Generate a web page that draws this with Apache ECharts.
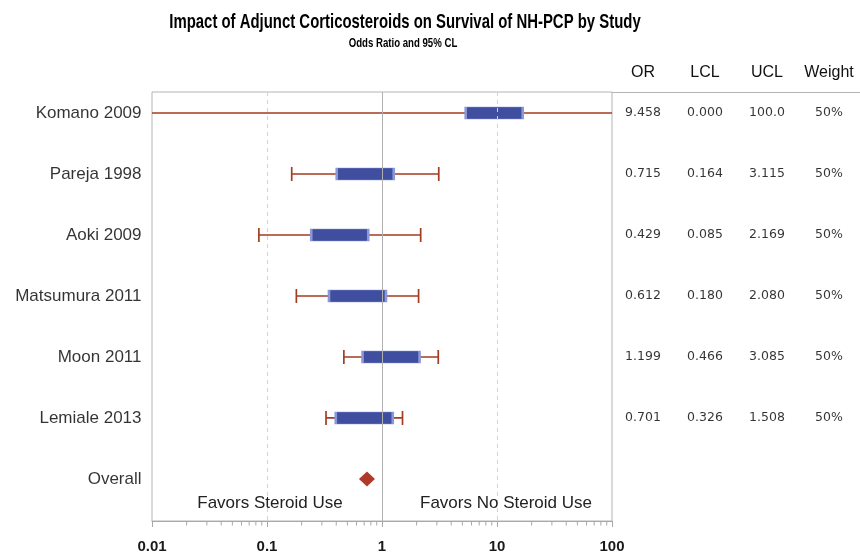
<!DOCTYPE html>
<html>
<head>
<meta charset="utf-8">
<script src="https://cdn.jsdelivr.net/npm/echarts@6/dist/echarts.min.js"></script>
<style>html,body{margin:0;padding:0;background:#fff;}#chart{width:860px;height:555px;}</style>
</head>
<body>
<div id="chart"></div>
<script>
// ---- data ----
const categories = ['Komano 2009','Pareja 1998','Aoki 2009','Matsumura 2011','Moon 2011','Lemiale 2013','Overall'];
const oddsRatio = [9.458, 0.715, 0.429, 0.612, 1.199, 0.701];
const lowerCL   = [0.000, 0.164, 0.085, 0.180, 0.466, 0.326];
const upperCL   = [100.0, 3.115, 2.169, 2.080, 3.085, 1.508];
const weights   = [50, 50, 50, 50, 50, 50];
const overallOR = 0.74;
const tableHeaders = ['OR','LCL','UCL','Weight'];
const xTickLabels = ['0.01','0.1','1','10','100'];
const refLines = [0.1, 1, 10];
const favorTexts = ['Favors Steroid Use','Favors No Steroid Use'];

// ---- layout constants ----
const X_MIN = 0.01, X_MAX = 100;
const Y_MIN = -0.344, Y_MAX = 6.689;
const BAR_COLOR = '#a23d22';
const FONT = '"Liberation Sans", Arial, sans-serif';

const chart = echarts.init(document.getElementById('chart'));

const minorTicks = [];
for (let d = -2; d <= 1; d++) {
  for (let m = 2; m <= 9; m++) minorTicks.push([m * Math.pow(10, d), Y_MAX]);
}

function fmt(v) { return v >= 100 ? v.toFixed(1) : v.toFixed(3); }

const tableData = [];
oddsRatio.forEach((v, i) => {
  tableData.push({ value: [0, i], name: fmt(v) });
  tableData.push({ value: [1, i], name: fmt(lowerCL[i]) });
  tableData.push({ value: [2, i], name: fmt(upperCL[i]) });
  tableData.push({ value: [3, i], name: weights[i] + '%' });
});

function renderErrorBar(params, api) {
  const row = api.value(0), lo = api.value(1), hi = api.value(2);
  const p1 = api.coord([Math.max(lo, X_MIN), row]);
  const p2 = api.coord([Math.min(hi, X_MAX), row]);
  const st = { stroke: BAR_COLOR, lineWidth: 1.7 };
  const children = [{ type: 'line', shape: { x1: p1[0], y1: p1[1], x2: p2[0], y2: p2[1] }, style: st }];
  if (lo > X_MIN) children.push({ type: 'line', shape: { x1: p1[0], y1: p1[1] - 7, x2: p1[0], y2: p1[1] + 7 }, style: st });
  if (hi < X_MAX) children.push({ type: 'line', shape: { x1: p2[0], y1: p2[1] - 7, x2: p2[0], y2: p2[1] + 7 }, style: st });
  return { type: 'group', children };
}

const option = {
  animation: false,
  backgroundColor: '#fff',
  graphic: [
    { type: 'text', x: 405, y: 22, scaleX: 0.71, z: 10,
      style: { text: 'Impact of Adjunct Corticosteroids on Survival of NH-PCP by Study', font: 'bold 21px ' + FONT, fill: '#000', textAlign: 'center', textVerticalAlign: 'middle' } },
    { type: 'text', x: 403, y: 43, scaleX: 0.74, z: 10,
      style: { text: 'Odds Ratio and 95% CL', font: 'bold 13px ' + FONT, fill: '#000', textAlign: 'center', textVerticalAlign: 'middle' } },
    { type: 'text', x: 270, y: 503, z: 10,
      style: { text: favorTexts[0], font: '17px ' + FONT, fill: '#222', textAlign: 'center', textVerticalAlign: 'middle' } },
    { type: 'text', x: 506, y: 503, z: 10,
      style: { text: favorTexts[1], font: '17px ' + FONT, fill: '#222', textAlign: 'center', textVerticalAlign: 'middle' } }
  ],
  grid: [
    { left: 152, right: 248, top: 92, bottom: 34, show: true, borderColor: '#b4b4b4', borderWidth: 1, backgroundColor: 'transparent' },
    { left: 612, right: 0, top: 92, bottom: 34 }
  ],
  xAxis: [
    { type: 'log', logBase: 10, min: X_MIN, max: X_MAX, gridIndex: 0, position: 'bottom',
      axisLine: { show: true, onZero: false, lineStyle: { color: '#a8a8a8' } },
      axisTick: { show: true, length: 6, lineStyle: { color: '#a8a8a8' } },
      splitLine: { show: false },
      axisLabel: { fontSize: 15, fontWeight: 'bold', color: '#1a1a1a', margin: 18, fontFamily: FONT,
        formatter: v => xTickLabels[Math.round(Math.log10(v)) + 2] } },
    { type: 'category', gridIndex: 1, data: tableHeaders, position: 'top',
      axisLine: { show: true, onZero: false, lineStyle: { color: '#b4b4b4' } },
      axisTick: { show: false },
      axisLabel: { interval: 0, fontSize: 16, color: '#111', margin: 11, fontFamily: FONT } }
  ],
  yAxis: [
    { type: 'value', gridIndex: 0, min: Y_MIN, max: Y_MAX, inverse: true, show: false },
    { type: 'value', gridIndex: 1, min: Y_MIN, max: Y_MAX, inverse: true, show: false }
  ],
  series: [
    { type: 'scatter', name: 'labels', xAxisIndex: 0, yAxisIndex: 0, symbolSize: 1, silent: true, clip: false,
      itemStyle: { color: 'rgba(0,0,0,0)' },
      label: { show: true, position: 'left', distance: 10, formatter: '{b}', fontSize: 17, color: '#000', fontFamily: FONT },
      data: categories.map((c, i) => ({ value: [X_MIN, i], name: c })) },
    { type: 'custom', name: 'CL', xAxisIndex: 0, yAxisIndex: 0, z: 3, clip: false,
      renderItem: renderErrorBar, encode: { x: [1, 2], y: 0 },
      data: oddsRatio.map((v, i) => [i, lowerCL[i], upperCL[i]]) },
    { type: 'scatter', name: 'OR', xAxisIndex: 0, yAxisIndex: 0, z: 4, symbol: 'rect', symbolSize: [57, 12],
      itemStyle: { color: '#3f4e9e', borderColor: '#8a98d8', borderWidth: 1.2, opacity: 1 },
      data: oddsRatio.map((v, i) => [v, i]) },
    { type: 'scatter', name: 'Overall', xAxisIndex: 0, yAxisIndex: 0, z: 4, symbol: 'diamond', symbolSize: [16, 15],
      itemStyle: { color: '#b03a2a', opacity: 1 },
      data: [[overallOR, categories.length - 1]] },
    { type: 'scatter', name: 'minorTicks', xAxisIndex: 0, yAxisIndex: 0, z: 2, symbol: 'rect', symbolSize: [1, 4], symbolOffset: [0, 2.5],
      clip: false, silent: true, itemStyle: { color: '#a8a8a8', opacity: 1 }, data: minorTicks },
    { type: 'scatter', name: 'refs', xAxisIndex: 0, yAxisIndex: 0, z: 6, data: [], silent: true,
      markLine: { silent: true, symbol: 'none', label: { show: false }, animation: false,
        data: refLines.map(v => ({ xAxis: v, lineStyle: { type: v === 1 ? 'solid' : [4, 4], color: v === 1 ? '#b0b0b0' : '#d2d2d2', width: 1 } })) } },
    { type: 'scatter', name: 'table', xAxisIndex: 1, yAxisIndex: 1, symbolSize: 1, silent: true,
      itemStyle: { color: 'rgba(0,0,0,0)' },
      label: { show: true, position: 'inside', formatter: '{b}', fontSize: 12.5, color: '#000', textBorderWidth: 0, fontFamily: '"DejaVu Sans", sans-serif' },
      data: tableData }
  ]
};
chart.setOption(option);
</script>
</body>
</html>
